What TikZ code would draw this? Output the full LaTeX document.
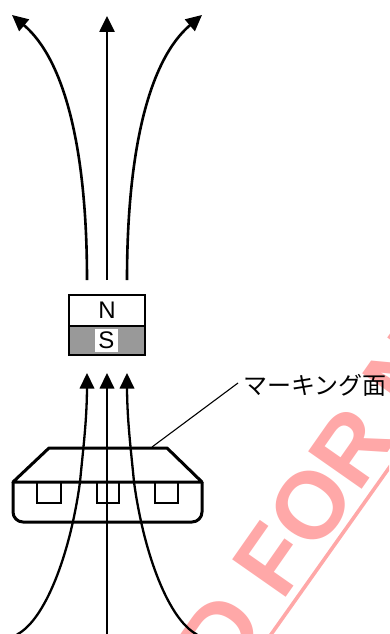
\documentclass[tikz,border=0pt]{standalone}
\usepackage{fontspec}
\setmainfont{Liberation Sans}
\newfontfamily\cjk{Noto Sans CJK JP}
\usetikzlibrary{arrows.meta}
\definecolor{wm}{HTML}{FFA8A8}
\definecolor{pole}{HTML}{999999}
\tikzset{
  x=1pt,y=-1pt,
  field/.style={line width=2.6pt,-{Triangle[length=16pt,width=15pt]}},
  fieldin/.style={line width=2.3pt},
  body/.style={line width=3pt,line join=round},
  recess/.style={line width=2.3pt},
  polebox/.style={draw,line width=2.5pt,minimum width=76pt,inner sep=0pt,font=\fontsize{24}{24}\selectfont},
  stamp/.style={text=wm,font=\bfseries\fontsize{95}{95}\selectfont,rotate=55,inner sep=0pt,anchor=base west},
}
\begin{document}
\begin{tikzpicture}
\useasboundingbox (0,0) rectangle (389,634);
% watermark
\begin{scope}
\clip (0,0) rectangle (389,634);
\node[stamp] (stampmark) at (228.2,680.3) {D FOR N};
\draw[wm,line width=3.6pt] (260,650) -- (395,459.5);
\end{scope}
% magnet
\node[polebox,fill=white,minimum height=31pt] (north) at (107,310.5) {N};
\node[polebox,fill=pole,minimum height=29pt] (south) at (107,340.5) {};
\node[fill=white,inner sep=0pt,minimum width=23pt,minimum height=23pt,font=\fontsize{24}{24}\selectfont] (slabel) at (106.5,340.5) {S};
% upper field lines
\coordinate (ua) at (87,280); \coordinate (ub) at (107,280); \coordinate (uc) at (127,280);
\coordinate (ta) at (12,15); \coordinate (tb) at (107,16); \coordinate (tc) at (202,15);
\draw[field] (ub) -- (tb);
\draw[field] (ua) .. controls (87,150) and (65,60) .. (ta);
\draw[field] (uc) .. controls (127,150) and (149,60) .. (tc);
% package body
\coordinate (bl) at (13,482); \coordinate (br) at (202,482);
\draw[body] (bl) -- (49,448) -- (167,448) -- (br) -- cycle;
\draw[body] (bl) -- (13,512) arc[start angle=180,end angle=90,radius=10] -- (192,522) arc[start angle=90,end angle=0,radius=10] -- (br);
\draw[recess] (37,482) -- (37,503) -- (61,503) -- (61,482);
\draw[recess] (97,482) -- (97,503) -- (119,503) -- (119,482);
\draw[recess] (155,482) -- (155,503) -- (178,503) -- (178,482);
% lower field lines
\coordinate (la) at (87,373); \coordinate (lb) at (107,373); \coordinate (lc) at (127,373);
\draw[fieldin] (107,634) -- (107,385);
\draw[fieldin] (17,634.5) .. controls (45,620) and (70,555) .. (80,482) .. controls (83,450) and (87,420) .. (87,385);
\draw[fieldin] (197,634.5) .. controls (169,620) and (144,555) .. (134,482) .. controls (131,450) and (127,420) .. (127,385);
\foreach \p in {la,lb,lc}{\fill (\p) -- ++(7.5,15.5) -- ++(-15,0) -- cycle;}
% label and leader
\node[anchor=west,inner sep=0pt,font=\cjk\fontsize{24}{24}\selectfont] (marking) at (243,385) {マーキング面};
\coordinate (face) at (152,447);
\draw[line width=1.1pt] (face) -- (238,383);
\end{tikzpicture}
\end{document}
